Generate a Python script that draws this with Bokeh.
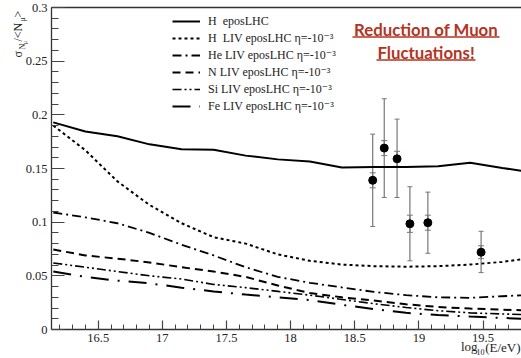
import numpy as np
from bokeh.plotting import figure
from bokeh.models import (Range1d, FixedTicker, LinearAxis, Legend, LegendItem, Label,
                          Whisker, TeeHead, ColumnDataSource, BoxAnnotation)
from bokeh.embed import file_html
from bokeh.resources import INLINE

# ---------------- data ----------------
log_energy = [16.15, 16.4, 16.65, 16.9, 17.15, 17.4, 17.65, 17.9,
              18.15, 18.4, 18.65, 18.9, 19.15, 19.4, 19.65, 19.9]
h_epos = [0.193, 0.1845, 0.180, 0.1725, 0.168, 0.1675, 0.162, 0.1585,
          0.1565, 0.151, 0.1515, 0.1515, 0.152, 0.1553, 0.1505, 0.146]
h_liv = [0.190, 0.167, 0.138, 0.116, 0.099, 0.086, 0.080, 0.070,
         0.064, 0.0605, 0.059, 0.0585, 0.059, 0.0605, 0.063, 0.067]
he_liv = [0.109, 0.1045, 0.099, 0.090, 0.079, 0.069, 0.058, 0.049,
          0.0435, 0.0392, 0.035, 0.032, 0.030, 0.0295, 0.031, 0.0325]
n_liv = [0.0745, 0.069, 0.066, 0.0625, 0.058, 0.054, 0.049, 0.041,
         0.034, 0.030, 0.027, 0.0235, 0.021, 0.0195, 0.0185, 0.0175]
si_liv = [0.062, 0.058, 0.054, 0.050, 0.047, 0.042, 0.039, 0.0355,
          0.032, 0.028, 0.024, 0.0205, 0.0175, 0.0155, 0.0145, 0.0135]
fe_liv = [0.054, 0.049, 0.0455, 0.043, 0.039, 0.0355, 0.0325, 0.030,
          0.0275, 0.023, 0.019, 0.0155, 0.0135, 0.012, 0.0108, 0.0095]

auger_logE = [18.64, 18.73, 18.83, 18.93, 19.07, 19.485]
auger_sigma = [0.139, 0.169, 0.159, 0.0985, 0.0995, 0.072]
auger_stat_high = [0.182, 0.215, 0.196, 0.133, 0.128, 0.0915]
auger_stat_low = [0.096, 0.123, 0.123, 0.064, 0.071, 0.053]
auger_sys = [0.007, 0.007, 0.007, 0.008, 0.007, 0.006]

series_labels = ["H  eposLHC",
                 "H  LIV eposLHC \u03b7=-10\u207b\u00b3",
                 "He LIV eposLHC \u03b7=-10\u207b\u00b3",
                 "N LIV eposLHC \u03b7=-10\u207b\u00b3",
                 "Si LIV eposLHC \u03b7=-10\u207b\u00b3",
                 "Fe LIV eposLHC \u03b7=-10\u207b\u00b3"]

x_ticks = [16.5, 17, 17.5, 18, 18.5, 19, 19.5]
x_tick_labels = ["16.5", "17", "17.5", "18", "18.5", "19", "19.5"]
y_ticks = [0, 0.05, 0.1, 0.15, 0.2, 0.25, 0.3]
y_tick_labels = ["0", "0.05", "0.1", "0.15", "0.2", "0.25", "0.3"]

# ---------------- layout (pixel geometry of the plot box) ----------------
W, H = 521, 358
PL, PR, PT, PB = 51, 521, 7, 329          # plot box edges in canvas pixels
X0, X1 = 16.136, 19.8                     # data at PL / PR
Y0, Y1 = 0.0, 0.3                         # data at PB / PT
dx = (X1 - X0) / (PR - PL)
dy = (Y1 - Y0) / (PB - PT)


def px2x(px):
    return X0 + (px - PL) * dx


def py2y(py):
    return Y0 + (PB - py) * dy


SERIF = "Liberation Serif, DejaVu Serif, serif"
INK = "#222222"

p = figure(width=W, height=H,
           x_range=Range1d(px2x(0), px2x(W)), y_range=Range1d(py2y(H), py2y(0)),
           output_backend="svg", toolbar_location=None,
           x_axis_location=None, y_axis_location=None,
           min_border_left=0, min_border_right=0, min_border_top=0, min_border_bottom=0)
p.grid.visible = False
p.outline_line_color = None
p.background_fill_color = "white"
p.border_fill_color = "white"

xa = LinearAxis(fixed_location=Y0, bounds=(X0, X1))
xa.ticker = FixedTicker(ticks=x_ticks,
                        minor_ticks=[round(v, 1) for v in np.arange(16.2, 19.85, 0.1)])
xa.major_label_overrides = {t: s for t, s in zip(x_ticks, x_tick_labels)}
xa.major_tick_in, xa.major_tick_out = 9, 0
xa.minor_tick_in, xa.minor_tick_out = 5, 0
xa.major_label_standoff = 4

ya = LinearAxis(fixed_location=X0, bounds=(Y0, Y1))
ya.ticker = FixedTicker(ticks=y_ticks,
                        minor_ticks=[round(v, 2) for v in np.arange(0.0, 0.301, 0.01)])
ya.major_label_overrides = {t: s for t, s in zip(y_ticks, y_tick_labels)}
ya.major_tick_in, ya.major_tick_out = 13, 0
ya.minor_tick_in, ya.minor_tick_out = 7, 0
ya.major_label_standoff = 4

for ax in (xa, ya):
    ax.axis_line_width = 1.3
    ax.axis_line_color = "#333333"
    ax.major_tick_line_color = "#444444"
    ax.minor_tick_line_color = "#444444"
    ax.major_tick_line_width = 1.2
    ax.minor_tick_line_width = 1.0
    ax.major_label_text_font = SERIF
    ax.major_label_text_font_size = "12.5px"
    ax.major_label_text_color = INK

top_axis = LinearAxis(fixed_location=Y1, bounds=(X0, X1), ticker=FixedTicker(ticks=[]),
                      major_label_text_font_size="0px",
                      major_tick_in=0, major_tick_out=0, minor_tick_in=0, minor_tick_out=0,
                      major_label_standoff=0, axis_line_width=1.3, axis_line_color="#333333")
p.add_layout(xa, "below")
p.add_layout(ya, "left")
p.add_layout(top_axis, "above")

# ---------------- curves ----------------
styles = [("solid", 2.0), ("3 3", 2.0), ("9 4 2 4", 1.8), ("8 5", 2.0),
          ("9 3 2 3 2 3", 1.6), ("18 9 2 9", 2.0)]
series = [h_epos, h_liv, he_liv, n_liv, si_liv, fe_liv]
items = []
for vals, (dash, lw), lab in zip(series, styles, series_labels):
    r = p.line(log_energy, vals, line_color="black", line_width=lw, line_dash=dash)
    items.append(LegendItem(label=lab, renderers=[r]))

ROW, GAP = 16, 1
legend_h = 6 * ROW + 5 * GAP
legend = Legend(items=items, location=(172, int(H - 12.5 - legend_h)), glyph_width=28,
                glyph_height=ROW, label_height=ROW, spacing=GAP, padding=0, margin=0,
                label_standoff=8, label_text_font=SERIF, label_text_font_size="12px",
                label_text_color=INK, border_line_color=None, background_fill_alpha=0)
p.add_layout(legend)

# ---------------- data points ----------------
src = ColumnDataSource(dict(x=auger_logE, y=auger_sigma,
                            hi=auger_stat_high, lo=auger_stat_low,
                            shi=[s + e for s, e in zip(auger_sigma, auger_sys)],
                            slo=[s - e for s, e in zip(auger_sigma, auger_sys)]))
GRAY = "#777777"
stat = Whisker(base="x", upper="hi", lower="lo", source=src, line_color=GRAY,
               line_width=1.2,
               upper_head=TeeHead(size=5, line_color=GRAY, line_width=1),
               lower_head=TeeHead(size=5, line_color=GRAY, line_width=1))
sysw = Whisker(base="x", upper="shi", lower="slo", source=src, line_color=GRAY,
               line_width=1.2,
               upper_head=TeeHead(size=6, line_color=GRAY, line_width=1),
               lower_head=TeeHead(size=6, line_color=GRAY, line_width=1))
p.add_layout(stat)
p.add_layout(sysw)
p.scatter("x", "y", source=src, size=8, color="black")

# ---------------- red note ----------------
RED = "#B3341F"
p.add_layout(Label(x=px2x(425.5), y=py2y(29), text="Reduction of Muon", text_align="center",
                   text_baseline="middle", text_font="Lato", text_font_style="bold",
                   text_font_size="16.8px", text_color=RED))
p.add_layout(Label(x=px2x(425.5), y=py2y(52), text="Fluctuations!", text_align="center",
                   text_baseline="middle", text_font="Lato", text_font_style="bold",
                   text_font_size="16.8px", text_color=RED))
p.add_layout(BoxAnnotation(left=px2x(352), right=px2x(499), top=py2y(35.8), bottom=py2y(37.3),
                           fill_color=RED, fill_alpha=1, line_color=None))
p.add_layout(BoxAnnotation(left=px2x(376), right=px2x(475), top=py2y(58.8), bottom=py2y(60.3),
                           fill_color=RED, fill_alpha=1, line_color=None))

# ---------------- axis titles ----------------
p.add_layout(Label(x=px2x(520), y=py2y(347), text="(E/eV)", text_align="right",
                   text_baseline="middle", text_font=SERIF, text_font_size="13px",
                   text_color=INK))
p.add_layout(Label(x=px2x(484), y=py2y(351.5), text="10", text_align="right",
                   text_baseline="middle", text_font=SERIF, text_font_size="8px",
                   text_color=INK))
p.add_layout(Label(x=px2x(477), y=py2y(346), text="log", text_align="right",
                   text_baseline="middle", text_font=SERIF, text_font_size="13px",
                   text_color=INK))

ang = np.pi / 2
ylab_parts = [("\u03c3", 12, 17, 57), ("N", 8, 22, 49), ("\u03bc", 6, 24.5, 43.5),
              ("/<N", 12, 17, 41), ("\u03bc", 8, 22, 21), (">", 12, 17, 17)]
for txt, fs, cx, by in ylab_parts:
    p.add_layout(Label(x=px2x(cx), y=py2y(by), text=txt, angle=ang, text_align="left",
                       text_baseline="middle", text_font=SERIF,
                       text_font_size=f"{fs}px", text_color=INK))

open("out.html", "w").write(file_html(p, INLINE))
